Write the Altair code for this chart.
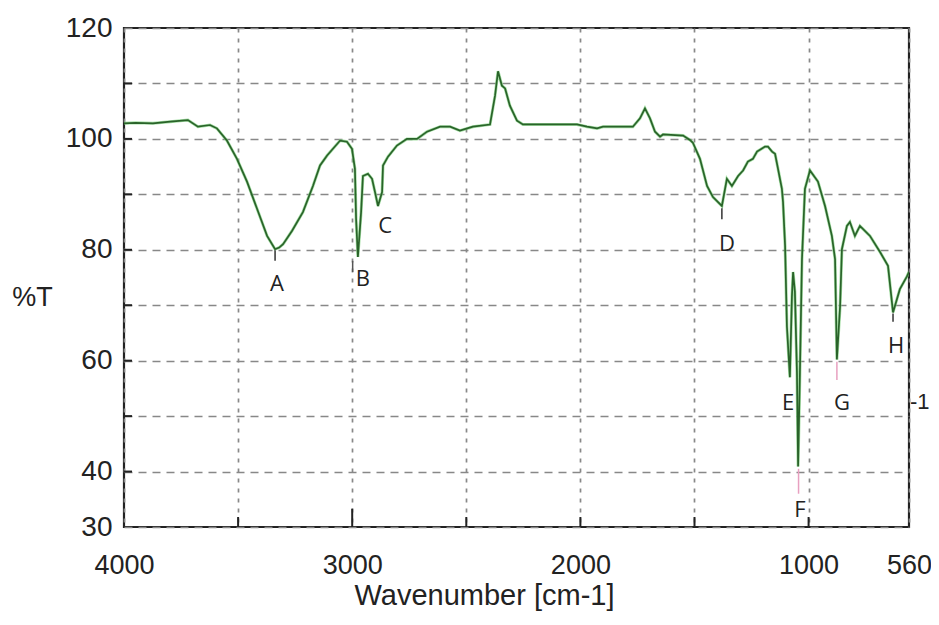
import altair as alt
import pandas as pd

# Spectrum (wavenumber in cm-1, %T)
wavenumber = [4000, 3950, 3873, 3798, 3720, 3676, 3623, 3593, 3549, 3505, 3461, 3417, 3373,
              3338, 3320, 3303, 3264, 3216, 3172, 3141, 3110, 3053, 3023, 3001, 2988, 2983,
              2975, 2961, 2953, 2931, 2913, 2900, 2887, 2869, 2865, 2843, 2804, 2760, 2716,
              2672, 2615, 2571, 2528, 2471, 2396, 2374, 2361, 2344, 2330, 2309, 2278, 2252,
              2015, 1971, 1927, 1901, 1770, 1739, 1717, 1695, 1673, 1651, 1638, 1550, 1520,
              1507, 1476, 1445, 1419, 1380, 1358, 1336, 1309, 1287, 1266, 1244, 1226, 1191,
              1178, 1160, 1147, 1134, 1117, 1112, 1103, 1095, 1082, 1073, 1068, 1060, 1051,
              1046, 1038, 1029, 1016, 994, 959, 928, 898, 884, 876, 862, 854, 832, 819, 797,
              775, 731, 687, 652, 630, 600, 569, 560]
transmittance = [102.8, 102.9, 102.8, 103.1, 103.4, 102.2, 102.5, 101.9, 99.7, 96.4, 92.3, 87.4, 82.5,
                 80.1, 80.4, 81.0, 83.4, 86.8, 91.5, 95.2, 97.0, 99.7, 99.5, 98.2, 94.6, 85.6,
                 78.7, 86.8, 93.3, 93.7, 92.8, 90.4, 87.9, 90.4, 95.2, 96.8, 98.8, 100.0, 100.0,
                 101.3, 102.2, 102.2, 101.5, 102.2, 102.6, 107.8, 112.2, 109.6, 109.1, 106.0, 103.3, 102.6,
                 102.6, 102.2, 101.9, 102.2, 102.2, 103.7, 105.5, 103.7, 101.3, 100.4, 100.8, 100.6, 99.8,
                 99.3, 96.4, 91.5, 89.5, 87.9, 92.8, 91.5, 93.3, 94.3, 95.9, 96.4, 97.7, 98.6,
                 98.6, 97.7, 97.3, 94.6, 91.0, 88.6, 80.7, 66.2, 57.0, 71.6, 76.0, 72.4, 57.9,
                 40.9, 57.9, 78.3, 91.0, 94.3, 92.3, 87.9, 82.5, 78.3, 60.2, 69.8, 80.1, 84.3, 85.0, 82.5,
                 84.3, 82.5, 79.6, 77.1, 68.7, 72.9, 75.2, 76.0]

# Peak labels
peak_labels = ["A", "B", "C", "D", "E", "F", "G", "H"]
peak_wn = [3330, 2953, 2856, 1358, 1090, 1038, 854, 617]
peak_t = [73.8, 74.7, 84.3, 81.0, 52.4, 33.1, 52.4, 62.6]

# Short marker segments under peaks
marker_wn = [3338, 2998, 1380, 1044, 876, 630]
marker_top = [79.9, 78.0, 87.5, 40.5, 59.8, 68.5]
marker_bottom = [78.0, 76.0, 85.5, 36.0, 56.5, 67.0]
marker_color = ["#333333", "#555555", "#333333", "#e8a0c0", "#e8a0c0", "#333333"]

# Axis ticks / labels
x_axis_values = [4000, 3500, 3000, 2500, 2000, 1500, 1000, 560]
y_axis_values = [30, 40, 50, 60, 70, 80, 90, 100, 110, 120]
x_tick_pos = [3500, 3000, 2500, 2000, 1500, 1000]
x_tick_len = [1.8, 3.3, 1.8, 1.8, 1.8, 1.8]
y_tick_pos = [40, 50, 60, 70, 80, 90, 100, 110]

spec = pd.DataFrame({"wn": wavenumber, "t": transmittance})
peaks = pd.DataFrame({"label": peak_labels, "wn": peak_wn, "t": peak_t})
markers = pd.DataFrame({"wn": marker_wn, "top": marker_top, "bottom": marker_bottom, "c": marker_color})
xticks = pd.DataFrame({"wn": x_tick_pos, "y0": [30] * len(x_tick_pos),
                       "y1": [30 + v for v in x_tick_len]})
yticks = pd.DataFrame({"t": y_tick_pos, "x0": [4000] * len(y_tick_pos), "x1": [3965] * len(y_tick_pos)})
extra = pd.DataFrame({"wn": [556], "t": [52.6], "txt": ["-1"]})

xscale = alt.Scale(domain=[4000, 560], nice=False, zero=False)
yscale = alt.Scale(domain=[30, 120], nice=False, zero=False)

x_axis = alt.Axis(
    values=x_axis_values, format="d",
    labelExpr="(datum.value == 3500 || datum.value == 2500 || datum.value == 1500) ? '' : datum.label",
    grid=True, gridDash=[4, 6], gridColor="#888888", gridWidth=1.7,
    ticks=False, domain=False, labelFlush=False, labelOverlap=False,
    labelFont="Liberation Sans", labelFontSize=27, labelColor="#222222",
    labelPadding=25, labelBaseline="top",
    title="Wavenumber [cm-1]", titleFont="Liberation Sans", titleFontSize=29,
    titleFontWeight="normal", titleColor="#222222",
    titleX=360, titleY=77, titleAlign="center", titleBaseline="alphabetic",
)
y_axis = alt.Axis(
    values=y_axis_values,
    labelExpr="(datum.value == 50 || datum.value == 70 || datum.value == 90 || datum.value == 110) ? '' : datum.label",
    grid=True, gridDash=[8, 6], gridColor="#888888", gridWidth=1.7,
    ticks=False, domain=False, labelFlush=False, labelOverlap=False,
    labelFont="Liberation Sans", labelFontSize=28, labelColor="#222222",
    labelPadding=12, labelBaseline="middle",
    title="%T", titleFont="Liberation Sans", titleFontSize=27,
    titleFontWeight="normal", titleColor="#222222", titleAngle=0,
    titleX=-92, titleY=269, titleAlign="center", titleBaseline="middle",
)

base = alt.Chart(spec)
halo = base.mark_line(color="#7fd27f", strokeWidth=3.0, opacity=0.7, clip=True).encode(
    x=alt.X("wn:Q", scale=xscale, axis=x_axis),
    y=alt.Y("t:Q", scale=yscale, axis=y_axis),
)
core = base.mark_line(color="#2a632a", strokeWidth=1.7, clip=True).encode(
    x=alt.X("wn:Q", scale=xscale),
    y=alt.Y("t:Q", scale=yscale),
)
marks = alt.Chart(markers).mark_rule(strokeWidth=1.5).encode(
    x=alt.X("wn:Q", scale=xscale),
    y=alt.Y("top:Q", scale=yscale),
    y2="bottom:Q",
    color=alt.Color("c:N", scale=None),
)
labels = alt.Chart(peaks).mark_text(font="Open Sans", fontSize=22, color="#222222",
                                    align="center", baseline="middle").encode(
    x=alt.X("wn:Q", scale=xscale),
    y=alt.Y("t:Q", scale=yscale),
    text="label:N",
)
xt = alt.Chart(xticks).mark_rule(color="#222222", strokeWidth=2).encode(
    x=alt.X("wn:Q", scale=xscale), y=alt.Y("y0:Q", scale=yscale), y2="y1:Q")
yt = alt.Chart(yticks).mark_rule(color="#222222", strokeWidth=2).encode(
    y=alt.Y("t:Q", scale=yscale), x=alt.X("x0:Q", scale=xscale), x2="x1:Q")
extra_txt = alt.Chart(extra).mark_text(font="Liberation Sans", fontSize=22, color="#222222",
                                       align="left", baseline="middle").encode(
    x=alt.X("wn:Q", scale=xscale), y=alt.Y("t:Q", scale=yscale), text="txt:N")

chart = alt.layer(halo, core, marks, xt, yt, labels, extra_txt).properties(
    width=785, height=499,
    autosize=alt.AutoSizeParams(type="none"),
    padding={"left": 116, "top": 20, "right": 22, "bottom": 90},
    background="white",
).configure_view(stroke="#222222", strokeWidth=2.2)

chart.save("out.html", embed_options={"renderer": "svg", "actions": False})
